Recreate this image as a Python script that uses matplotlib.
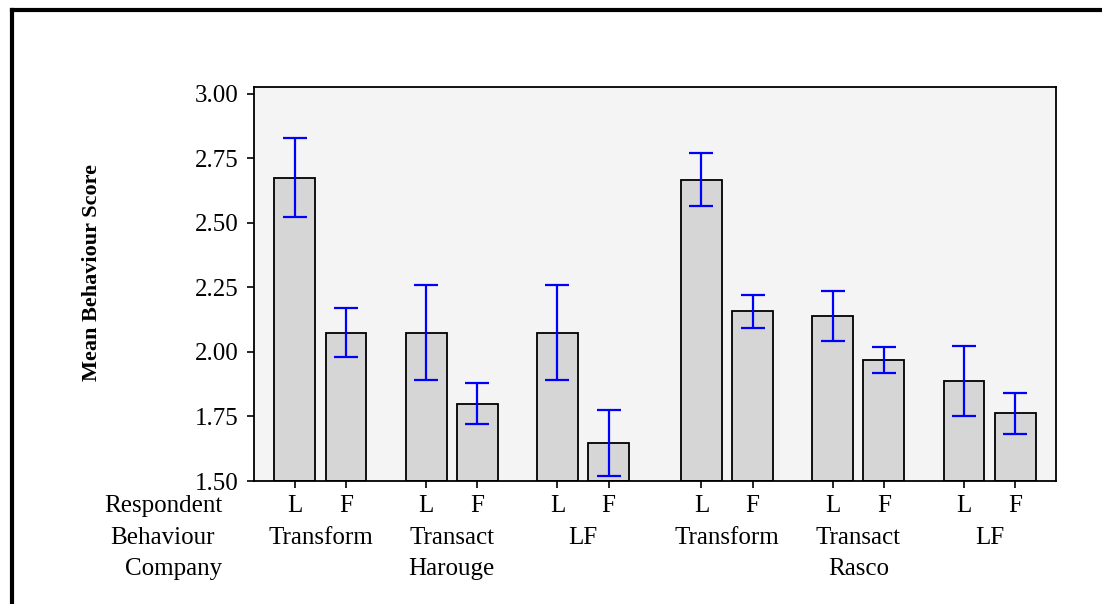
import matplotlib
matplotlib.use("Agg")
import matplotlib.pyplot as plt
from matplotlib.lines import Line2D
import numpy as np

# data
companies = ["Harouge", "Rasco"]
behaviours = ["Transform", "Transact", "LF"]
respondents = ["L", "F"]
means = [2.675, 2.075, 2.075, 1.800, 2.075, 1.648,
         2.668, 2.157, 2.141, 1.970, 1.886, 1.762]
errors = [0.153, 0.094, 0.184, 0.078, 0.184, 0.127,
          0.103, 0.063, 0.097, 0.051, 0.136, 0.078]

plt.rcParams['font.family'] = ['Liberation Serif', 'DejaVu Serif']

# bar layout: pairs inside a behaviour group, extra gap between companies
group_step = 2.57
company_step = 3 * group_step + 0.25
pos = []
for c in range(len(companies)):
    for g in range(len(behaviours)):
        for r in range(len(respondents)):
            pos.append(c * company_step + g * group_step + r)
pos = np.array(pos)

fig = plt.figure(figsize=(11.02, 6.04), dpi=100)
ax = fig.add_axes([254/1102, 1 - 481/604, 802/1102, 394/604])
ax.set_facecolor('#f4f4f4')

ax.bar(pos, np.array(means) - 1.5, bottom=1.5, width=0.8, color='#d6d6d6',
       edgecolor='black', linewidth=1.3, zorder=2)
ax.errorbar(pos, means, yerr=errors, fmt='none', ecolor='#0000ff',
            elinewidth=1.6, capsize=8.5, capthick=1.6, zorder=3)

ax.set_ylim(1.5, 3.027)
ax.set_xlim(pos[0] - 0.8, pos[-1] + 0.8)
ax.set_yticks([1.5, 1.75, 2.0, 2.25, 2.5, 2.75, 3.0])
ax.set_yticklabels(['%.2f' % v for v in ax.get_yticks()])
ax.set_xticks(pos)
ax.set_xticklabels(respondents * (len(pos) // 2))
ax.tick_params(axis='both', direction='out', length=5, width=1.2,
               labelsize=18, color='black')
ax.tick_params(axis='y', pad=6)
ax.tick_params(axis='x', pad=17.3)
for t in ax.get_xticklabels():
    t.set_verticalalignment('baseline')
for s in ax.spines.values():
    s.set_linewidth(1.3)
    s.set_color('black')

# behaviour and company rows under the axis
trans = ax.get_xaxis_transform()
for i in range(0, len(pos), 2):
    b = behaviours[(i // 2) % len(behaviours)]
    ax.text((pos[i] + pos[i + 1]) / 2, -0.160, b, transform=trans,
            ha='center', va='baseline', fontsize=18)
for c, name in enumerate(companies):
    mid = pos[c * 6 + 2:c * 6 + 4].mean()
    ax.text(mid, -0.2386, name, transform=trans, ha='center',
            va='baseline', fontsize=18)

for label, xr, yb in zip(["Respondent", "Behaviour", "Company"],
                         [222, 215, 222], [512, 544, 575]):
    fig.text(xr/1102, 1 - yb/604, label, ha='right', va='baseline',
             fontsize=18)

fig.text(92/1102, 1 - 272/604, "Mean Behaviour Score", rotation=90,
         ha='center', va='center', fontsize=16, fontweight='bold')

# frame around the figure (only left and top visible)
fig.add_artist(Line2D([12/1102, 12/1102], [0, 1 - 10/604], color='black',
                      lw=3, transform=fig.transFigure))
fig.add_artist(Line2D([12/1102, 1], [1 - 10/604, 1 - 10/604], color='black',
                      lw=3, transform=fig.transFigure))

fig.savefig("out.png", dpi=100)
